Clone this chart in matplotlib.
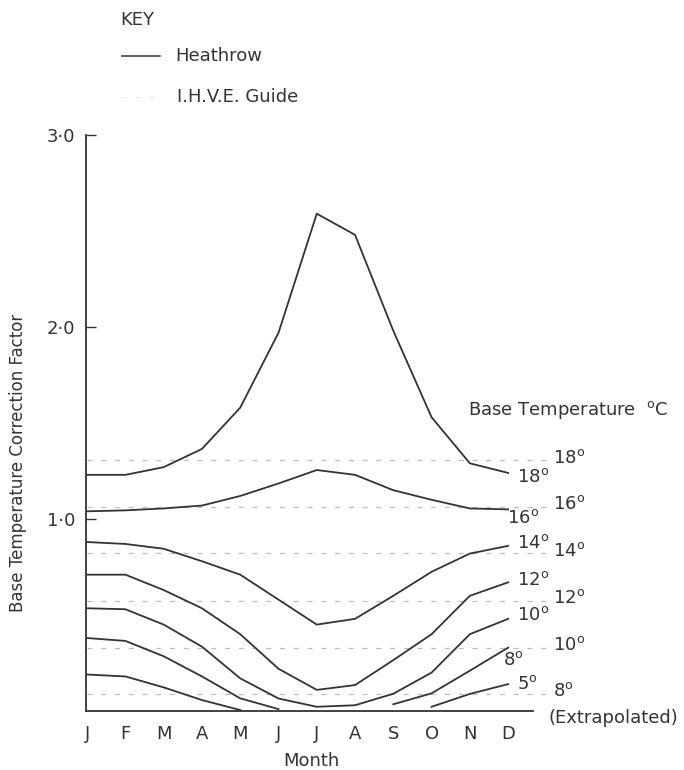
import numpy as np
import matplotlib.pyplot as plt

# Months and base temperature correction factors
months = ['J', 'F', 'M', 'A', 'M', 'J', 'J', 'A', 'S', 'O', 'N', 'D']

# Heathrow curves (solid)
heathrow_18 = [1.23, 1.23, 1.27, 1.365, 1.58, 1.97, 2.59, 2.48, 1.98, 1.53, 1.29, 1.24]
heathrow_16 = [1.04, 1.045, 1.055, 1.07, 1.12, 1.185, 1.255, 1.23, 1.15, 1.10, 1.055, 1.05]
heathrow_14 = [0.88, 0.87, 0.845, 0.78, 0.71, 0.58, 0.45, 0.48, 0.60, 0.725, 0.82, 0.86]
heathrow_12 = [0.71, 0.71, 0.63, 0.535, 0.40, 0.22, 0.11, 0.135, 0.265, 0.40, 0.60, 0.67]
heathrow_10 = [0.535, 0.53, 0.45, 0.335, 0.17, 0.065, 0.022, 0.03, 0.09, 0.20, 0.40, 0.48]
# 8 and 5 degree curves drop to zero in summer, so they come in two pieces
heathrow_8_spring = [0.38, 0.365, 0.285, 0.18, 0.066, 0.01]
heathrow_8_autumn = [0.035, 0.092, 0.21, 0.33]
heathrow_5_spring = [0.19, 0.18, 0.123, 0.057, 0.005]
heathrow_5_autumn = [0.022, 0.089, 0.14]

# I.H.V.E. Guide constant factors (dashed)
ihve_temps = ['18', '16', '14', '12', '10', '8']
ihve_values = [1.307, 1.064, 0.822, 0.574, 0.33, 0.09]

ink = '#333333'
faint = '#bdbdbd'
deg = '$^{\\mathrm{o}}$'

fig = plt.figure(figsize=(6.84, 7.70), dpi=100)
ax = fig.add_axes([86 / 684, 1 - 711 / 770, (533 - 86) / 684, (711 - 135) / 770])

x = np.arange(12)

# I.H.V.E. guide lines run a little past December
for val in ihve_values:
    ax.plot([0, 12.05], [val, val], color=faint, lw=0.9, ls=(0, (4, 7)), clip_on=False)

for curve in [heathrow_18, heathrow_16, heathrow_14, heathrow_12, heathrow_10]:
    ax.plot(x, curve, color=ink, lw=1.3)
ax.plot(x[:len(heathrow_8_spring)], heathrow_8_spring, color=ink, lw=1.3)
ax.plot(x[-len(heathrow_8_autumn):], heathrow_8_autumn, color=ink, lw=1.3)
ax.plot(x[:len(heathrow_5_spring)], heathrow_5_spring, color=ink, lw=1.3)
ax.plot(x[-len(heathrow_5_autumn):], heathrow_5_autumn, color=ink, lw=1.3)

# labels at the December end of each Heathrow curve
heathrow_labels = [('18', 11.24, 1.22), ('16', 10.97, 1.005), ('14', 11.24, 0.875),
                   ('12', 11.24, 0.68), ('10', 11.24, 0.50), ('8', 10.87, 0.266),
                   ('5', 11.24, 0.14)]
for t, lx, ly in heathrow_labels:
    ax.text(lx, ly, t + deg, fontsize=13, color=ink, ha='left', va='center',
            clip_on=False)

# labels for the guide lines
for t, val in zip(ihve_temps, ihve_values):
    ax.text(12.18, val + 0.012, t + deg, fontsize=13, color=ink,
            ha='left', va='center', clip_on=False)
ax.text(12.05, -0.036, '(Extrapolated)', fontsize=13, color=ink, ha='left', va='center',
        clip_on=False)

ax.text(9.95, 1.57, 'Base Temperature  ' + deg + 'C', fontsize=13, color=ink,
        ha='left', va='center', clip_on=False)

ax.set_xlim(-0.03, 11.65)
ax.set_ylim(0, 3.0)
ax.set_xticks(x)
ax.set_xticklabels(months, fontsize=13, color=ink)
ax.set_yticks([1, 2, 3])
ax.set_yticklabels(['1·0', '2·0', '3·0'], fontsize=13, color=ink)
ax.tick_params(axis='x', length=0, pad=10)
ax.tick_params(axis='y', direction='in', length=7, width=1.0, color=ink, pad=8)

for side in ['top', 'right']:
    ax.spines[side].set_visible(False)
for side in ['left', 'bottom']:
    ax.spines[side].set_color(ink)
    ax.spines[side].set_linewidth(1.3)

fig.text(311 / 684, 1 - 761 / 770, 'Month', fontsize=13, color=ink, ha='center', va='center')
fig.text(18 / 684, 1 - 463 / 770, 'Base Temperature Correction Factor', rotation=90,
         fontsize=12, color=ink, ha='center', va='center')

# key
fig.text(120 / 684, 1 - 20 / 770, 'KEY', fontsize=13, color=ink, ha='left', va='center')
fig.add_artist(plt.Line2D([122 / 684, 160 / 684], [1 - 56 / 770, 1 - 56 / 770],
                          color=ink, lw=1.1))
fig.text(175 / 684, 1 - 56 / 770, 'Heathrow', fontsize=13, color=ink, ha='left', va='center')
fig.add_artist(plt.Line2D([122 / 684, 160 / 684], [1 - 97 / 770, 1 - 97 / 770],
                          color=faint, lw=0.9, ls=(0, (4, 7)), alpha=0.3))
fig.text(177 / 684, 1 - 97 / 770, 'I.H.V.E. Guide', fontsize=13, color=ink, ha='left',
         va='center')

fig.savefig('out.png', dpi=100)
